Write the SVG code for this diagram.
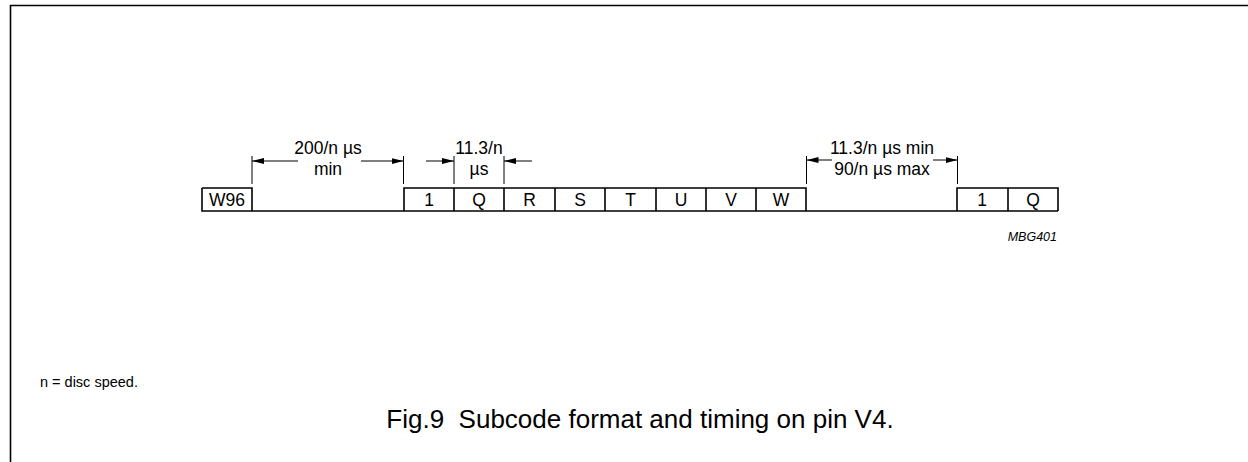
<svg xmlns="http://www.w3.org/2000/svg" width="1248" height="462" viewBox="0 0 1248 462">
<style>
.ln{stroke:#000;stroke-width:1.6;fill:none}
.th{stroke:#000;stroke-width:1;fill:none}
.t{font-family:"Liberation Sans",Arial,sans-serif;font-size:17.5px;fill:#000;text-anchor:middle}
.s{font-family:"Liberation Sans",Arial,sans-serif;font-size:14.5px;fill:#000}
</style>
<defs>
<marker id="ah" markerWidth="12" markerHeight="6" refX="12" refY="3" orient="auto" markerUnits="userSpaceOnUse">
<path d="M0,0 L12,3 L0,6 Z" fill="#000"/>
</marker>
</defs>
<rect width="1248" height="462" fill="#fff"/>
<path class="ln" d="M10.5,462 V5.5 H1248"/>
<g id="waveform">
<path class="ln" d="M202,188 H252 V211 M202,188 V211 H1058 M404,211 V188 H806 V211 M957,211 V188 H1058 V211"/>
<path class="ln" d="M454,188 V211 M504,188 V211 M555,188 V211 M605,188 V211 M656,188 V211 M706,188 V211 M756,188 V211 M1008,188 V211"/>
</g>
<g id="cells">
<text class="t" x="227" y="206">W96</text>
<text class="t" x="429" y="206">1</text>
<text class="t" x="479" y="206">Q</text>
<text class="t" x="529.5" y="206">R</text>
<text class="t" x="580" y="206">S</text>
<text class="t" x="630.5" y="206">T</text>
<text class="t" x="681" y="206">U</text>
<text class="t" x="731" y="206">V</text>
<text class="t" x="781" y="206">W</text>
<text class="t" x="982" y="206">1</text>
<text class="t" x="1033" y="206">Q</text>
</g>
<g id="connectors">
<path class="th" d="M252,156 V184 M403.5,156 V184 M454,156 V184 M504,156 V184 M806.5,156 V184 M957.5,156 V184"/>
<line class="th" x1="298" y1="161" x2="252" y2="161" marker-end="url(#ah)"/>
<line class="th" x1="361" y1="161" x2="403.5" y2="161" marker-end="url(#ah)"/>
<line class="th" x1="426" y1="161" x2="454" y2="161" marker-end="url(#ah)"/>
<line class="th" x1="532" y1="161" x2="504" y2="161" marker-end="url(#ah)"/>
<line class="th" x1="832" y1="160" x2="806.5" y2="160" marker-end="url(#ah)"/>
<line class="th" x1="933" y1="160" x2="957.5" y2="160" marker-end="url(#ah)"/>
</g>
<g id="labels">
<text class="t" x="328" y="154">200/n µs</text>
<text class="t" x="328" y="175">min</text>
<text class="t" x="479" y="154">11.3/n</text>
<text class="t" x="479" y="175">µs</text>
<text class="t" x="882" y="154">11.3/n µs min</text>
<text class="t" x="882" y="175">90/n µs max</text>
<text class="s" x="1057" y="241" font-style="italic" text-anchor="end" style="font-size:12.5px">MBG401</text>
<text class="s" x="40" y="387">n = disc speed.</text>
<text class="t" x="640" y="428" xml:space="preserve" style="font-size:26px">Fig.9  Subcode format and timing on pin V4.</text>
</g>
</svg>
